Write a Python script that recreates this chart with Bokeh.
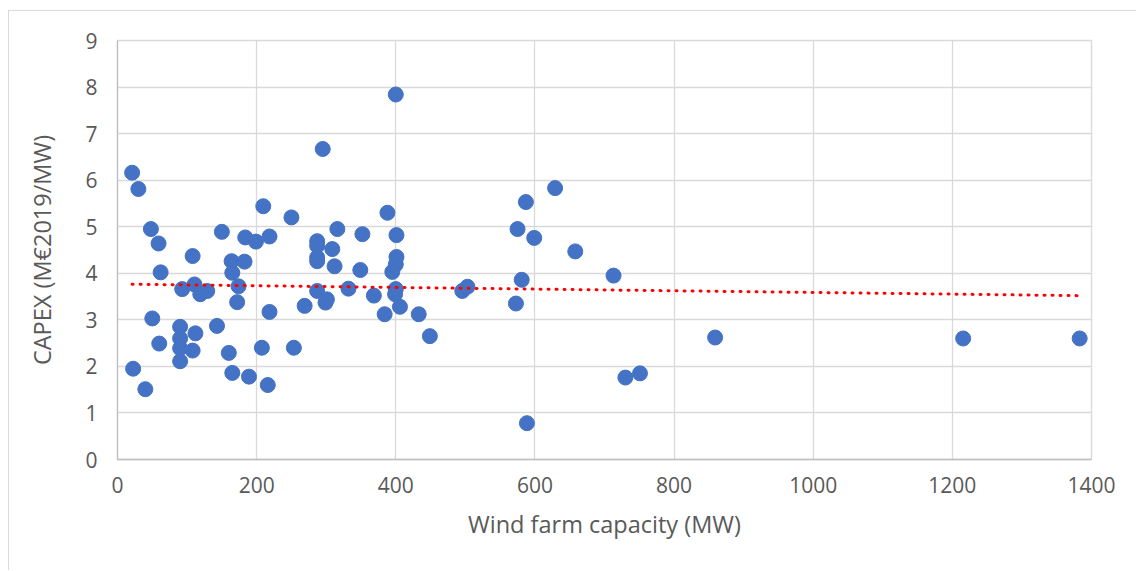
import numpy as np
from bokeh.plotting import figure
from bokeh.models import Range1d, FixedTicker
from bokeh.embed import file_html
from bokeh.resources import INLINE

# Wind farm capacity (MW) and CAPEX (M€2019/MW)
capacity_mw = [21, 30, 48, 59, 62, 108, 150, 209.5, 250, 183.6, 199, 218.5, 164, 182.6, 165,
               93, 110.7, 119, 129, 174, 172, 218.5, 269, 50, 90, 112, 143, 60, 90, 90,
               108, 90, 160, 207.5, 253.5, 22.5, 40, 165, 189, 216,
               400, 295, 388, 316, 352, 401, 287, 287, 308.7, 287, 287, 401, 400, 395, 312,
               349, 400, 287, 332, 368.5, 495.6, 503, 299, 301, 399, 384, 406, 433, 449,
               629, 587, 575, 599, 658, 713, 581, 572.7, 730, 751, 588.5, 859, 1215.5, 1383]
capex = [6.16, 5.81, 4.95, 4.64, 4.02, 4.37, 4.89, 5.44, 5.20, 4.77, 4.68, 4.79, 4.26, 4.25, 4.01,
         3.66, 3.76, 3.55, 3.62, 3.72, 3.38, 3.17, 3.30, 3.03, 2.85, 2.71, 2.87, 2.49, 2.60, 2.39,
         2.34, 2.11, 2.29, 2.40, 2.40, 1.95, 1.51, 1.86, 1.78, 1.60,
         7.84, 6.67, 5.30, 4.95, 4.84, 4.82, 4.69, 4.59, 4.52, 4.34, 4.26, 4.35, 4.19, 4.03, 4.15,
         4.07, 3.66, 3.62, 3.67, 3.52, 3.62, 3.71, 3.37, 3.44, 3.55, 3.12, 3.28, 3.12, 2.65,
         5.83, 5.53, 4.95, 4.76, 4.47, 3.95, 3.86, 3.35, 1.76, 1.85, 0.78, 2.62, 2.60, 2.60]

# Linear trendline: capex = intercept + slope * capacity
trend_intercept = 3.768
trend_slope = -0.000180

x_ticks = [0, 200, 400, 600, 800, 1000, 1200, 1400]
y_ticks = [0, 1, 2, 3, 4, 5, 6, 7, 8, 9]

FONT = "Open Sans"
TXT = "#595959"
GRID = "#D9D9D9"

p = figure(width=1128, height=560, output_backend="svg", toolbar_location=None,
           x_range=Range1d(0, 1400), y_range=Range1d(0, 9),
           min_border_left=108, min_border_right=46, min_border_top=29, min_border_bottom=112,
           background_fill_color="white", border_fill_color="white")
p.margin = (10, 0, 0, 8)
p.styles = {"border-left": "1px solid #D9D9D9", "border-top": "1px solid #D9D9D9"}
p.outline_line_color = GRID
p.outline_line_width = 1.3

p.xaxis.ticker = FixedTicker(ticks=x_ticks)
p.yaxis.ticker = FixedTicker(ticks=y_ticks)
for ax in (p.xaxis[0], p.yaxis[0]):
    ax.major_tick_in = 0
    ax.major_tick_out = 0
    ax.minor_tick_in = 0
    ax.minor_tick_out = 0
    ax.axis_line_color = "#BFBFBF"
    ax.axis_line_width = 1.3
    ax.major_label_text_font = FONT
    ax.major_label_text_font_size = "21px"
    ax.major_label_text_color = TXT
    ax.axis_label_text_font = FONT
    ax.axis_label_text_font_size = "23.5px"
    ax.axis_label_text_color = TXT
    ax.axis_label_text_font_style = "normal"
p.xaxis.major_label_standoff = 17
p.yaxis.major_label_standoff = 20
p.xaxis.axis_label = "Wind farm capacity (MW)"
p.yaxis.axis_label = "CAPEX (M€2019/MW)"
p.xaxis.axis_label_standoff = 12
p.yaxis.axis_label_standoff = 24

p.xgrid.ticker = FixedTicker(ticks=x_ticks)
p.ygrid.ticker = FixedTicker(ticks=y_ticks)
p.grid.grid_line_color = GRID
p.grid.grid_line_width = 1.3

p.scatter(capacity_mw, capex, size=15, fill_color="#4472C4", line_color="#4472C4", line_width=1)

xs = np.array(capacity_mw)
tx = [float(xs.min()), float(xs.max())]
ty = [trend_intercept + trend_slope * v for v in tx]
p.line(tx, ty, line_color="#FF0000", line_width=3, line_dash="1 7", line_cap="round")

open("out.html", "w").write(file_html(p, INLINE))
